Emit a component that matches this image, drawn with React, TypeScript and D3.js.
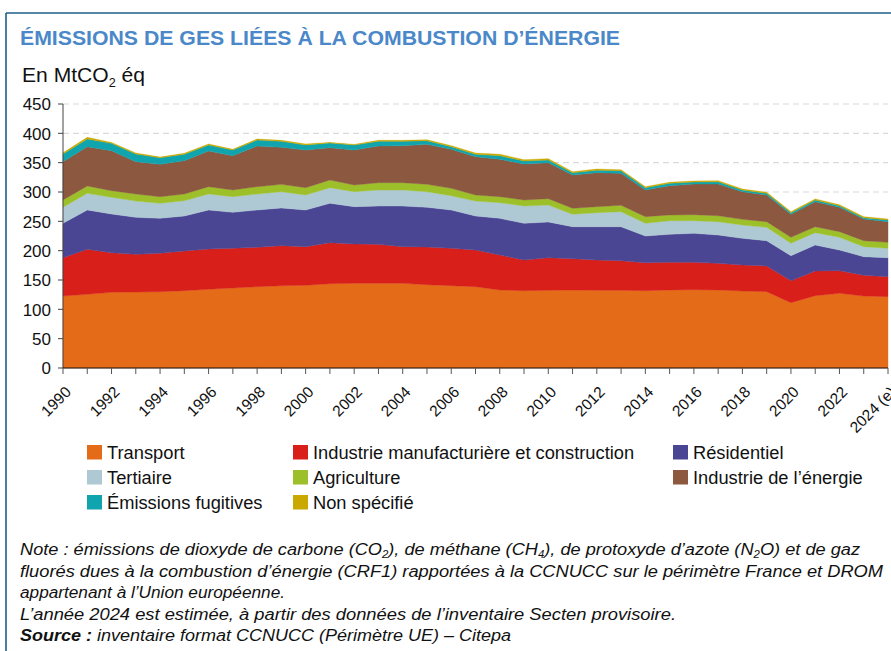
import React from "react";
import * as d3 from "d3";

const years = d3.range(1990, 2025);
const yearLabels = ["1990","1992","1994","1996","1998","2000","2002","2004","2006","2008","2010","2012","2014","2016","2018","2020","2022","2024 (e)"];
const yTicks = [0, 50, 100, 150, 200, 250, 300, 350, 400, 450];

const transport = [122.7,125.6,129,129.5,130,131.8,134.1,136.4,138.6,140.3,140.9,143.7,144.3,144.3,144.3,142,140.3,138.6,133,131.8,132.4,133,132.4,132.4,131.8,133,133.5,133,131.2,130.1,111.3,123.3,127.3,122.7,121.6];
const industrie = [65.3,76.7,67.6,64.2,65.5,67.6,68.7,67.6,67.1,68.2,65.9,69.9,67.1,66.5,62.5,64.2,63.7,62.5,59.6,52.3,55.6,53.3,51.6,50.5,47.7,47.1,46.6,45.4,44.4,43.8,37.5,42,38.6,35.3,34.1];
const residentiel = [58.6,67,65.9,63.1,59.6,59.7,66.5,61.3,63.6,64.2,62.5,67.1,63.6,65.3,69.3,67.7,65.3,58,62.5,62.5,60.9,54.5,56.8,57.9,45.5,47.8,49.5,48.3,45.4,43.1,42.6,44.3,35.2,31.8,32.3];
const tertiaire = [27.3,28.4,28.4,27.8,25.6,26.1,27.3,26.7,27.3,27.8,25.6,26.7,25.5,27.3,27.3,26.6,24.4,25.5,26.7,29.5,28.9,21.1,24,25.7,21.6,23.2,21.5,22.7,22.7,22.8,21.1,21.1,21.6,17,16];
const agriculture = [12.5,12.5,11.4,12,11.3,11.4,12.5,11.4,12.5,12.5,12.5,13,11.4,12.5,12.5,12.5,12.5,10.3,10.2,10.3,10.8,10.3,10.2,10.8,11.4,9.7,10.2,10.2,9.7,9.6,10.2,10.1,9.7,10.2,10.2];
const energie = [65.3,67.1,68.1,55.1,55.1,56.8,60.8,58.5,69.3,63.1,64.2,55.2,59.7,62.5,63,68.2,66.5,65.3,63.7,61.3,61.4,56.8,58,54.5,45.4,50,52.3,54,47.1,45.5,39.2,42.7,41.5,37,35.2];
const fugitives = [13.1,13,12.5,13,11.4,10.8,10.2,9.7,10.2,10.2,8.5,7.9,8.5,7.9,7.4,6.3,4.6,4,6.2,5.1,4.5,3.9,4,4.6,4,4,3.4,3.9,2.9,2.8,2.9,2.9,2.8,2.2,2.9];
const nonSpecifie = [2,2.9,1.6,1.7,1.1,1.7,1.7,1.1,1.7,1.7,1.7,1,1,1.7,1.7,1.5,1.7,2.2,2.3,2.3,2.3,1.8,2,1.6,1.7,1.7,1.7,1.8,1.7,1.7,1.7,1.7,1.7,1.7,1.6];

const seriesNames = ["Transport","Industrie manufacturière et construction","Résidentiel","Tertiaire","Agriculture","Industrie de l’énergie","Émissions fugitives","Non spécifié"];
const seriesKeys = ["transport","industrie","residentiel","tertiaire","agriculture","energie","fugitives","nonSpecifie"];
const seriesColors = ["#E46C18","#D81F1A","#4B4694","#AEC9D3","#9DC02A","#8C5840","#10A5AE","#C9A900"];
const seriesValues = [transport, industrie, residentiel, tertiaire, agriculture, energie, fugitives, nonSpecifie];

const rows = years.map((yr, i) => {
  const r: any = { year: yr };
  seriesKeys.forEach((k, j) => { r[k] = seriesValues[j][i]; });
  return r;
});

const W = 891, H = 651;
const x = d3.scaleLinear().domain([1990, 2024]).range([63, 888]);
const y = d3.scaleLinear().domain([0, 450]).range([368, 104]);

const stacked = d3.stack().keys(seriesKeys)(rows as any);
const area = d3.area<any>()
  .x((d) => x(d.data.year))
  .y0((d) => y(d[0]))
  .y1((d) => y(d[1]));

const legendOrder = [
  [0, 1, 2],
  [3, 4, 5],
  [6, 7],
];
const legendColX = [87, 293, 673];

const baseFont = "'Liberation Sans', Arial, Helvetica, sans-serif";

export default function App() {
  return (
    <svg width={W} height={H} style={{ position: "absolute", left: 0, top: 0, display: "block" }} fontFamily={baseFont}>
      <rect x={0} y={0} width={W} height={H} fill="#fff" />
      {/* frame */}
      <line x1={6} y1={13} x2={W} y2={13} stroke="#1E5F8A" strokeWidth={1.6} />
      <line x1={6} y1={13} x2={6} y2={H} stroke="#1E5F8A" strokeWidth={1.6} />
      <text x={20} y={45} fontSize={20.5} fontWeight="bold" fill="#4A88C9" textLength={600} lengthAdjust="spacingAndGlyphs">ÉMISSIONS DE GES LIÉES À LA COMBUSTION D’ÉNERGIE</text>
      <text x={22} y={82} fontSize={20} fill="#111" textLength={123} lengthAdjust="spacingAndGlyphs">
        En MtCO<tspan fontSize={12} dy={5}>2</tspan><tspan dy={-5}> éq</tspan>
      </text>

      {/* gridlines */}
      {yTicks.filter((t) => t > 0).map((t) => (
        <line key={t} x1={63} x2={888} y1={y(t)} y2={y(t)} stroke="#D9D9D9" strokeWidth={1.2} strokeDasharray="6,4" />
      ))}

      {/* areas */}
      {stacked.map((s, i) => (
        <path key={seriesKeys[i]} d={area(s as any) || ""} fill={seriesColors[i]} stroke={seriesColors[i]} strokeWidth={0.4} />
      ))}

      {/* y axis */}
      <line x1={63} x2={63} y1={y(450)} y2={y(0)} stroke="#444" strokeWidth={1} />
      {yTicks.map((t) => (
        <g key={t}>
          <line x1={58} x2={63} y1={y(t)} y2={y(t)} stroke="#444" />
          <text x={51} y={y(t)} dy="0.38em" textAnchor="end" fontSize={17} fill="#111">{t}</text>
        </g>
      ))}

      {/* x axis */}
      <line x1={63} x2={888} y1={368} y2={368} stroke="#111" strokeWidth={1.2} />
      {years.map((yr) => (
        <line key={yr} x1={x(yr)} x2={x(yr)} y1={368} y2={374} stroke="#555" />
      ))}
      {yearLabels.map((lab, i) => {
        const yr = 1990 + i * 2;
        const px = x(yr) + 9;
        const py = 393;
        return (
          <text key={lab} x={px} y={py} fontSize={15.5} textAnchor="end" fill="#111" transform={`rotate(-45 ${px} ${py})`}>{lab}</text>
        );
      })}

      {/* legend */}
      {legendOrder.map((row, ri) =>
        row.map((si, ci) => {
          const lx = legendColX[ci];
          const ly = 445 + ri * 25;
          return (
            <g key={si}>
              <rect x={lx} y={ly} width={15} height={14.5} fill={seriesColors[si]} />
              <text x={lx + 20} y={ly + 13.5} fontSize={18.3} fill="#111">{seriesNames[si]}</text>
            </g>
          );
        })
      )}

      {/* notes */}
      <g fontStyle="italic" fontSize={16} fill="#111">
        <text x={20} y={555} textLength={840} lengthAdjust="spacingAndGlyphs">
          Note : émissions de dioxyde de carbone (CO<tspan fontSize={10} dy={3}>2</tspan><tspan dy={-3}>), de méthane (CH</tspan><tspan fontSize={10} dy={3}>4</tspan><tspan dy={-3}>), de protoxyde d’azote (N</tspan><tspan fontSize={10} dy={3}>2</tspan><tspan dy={-3}>O) et de gaz</tspan>
        </text>
        <text x={20} y={577} textLength={863} lengthAdjust="spacingAndGlyphs">fluorés dues à la combustion d’énergie (CRF1) rapportées à la CCNUCC sur le périmètre France et DROM</text>
        <text x={20} y={598} textLength={265} lengthAdjust="spacingAndGlyphs">appartenant à l’Union européenne.</text>
        <text x={20} y={620} textLength={656} lengthAdjust="spacingAndGlyphs">L’année 2024 est estimée, à partir des données de l’inventaire Secten provisoire.</text>
        <text x={20} y={641} textLength={491} lengthAdjust="spacingAndGlyphs"><tspan fontWeight="bold">Source :</tspan> inventaire format CCNUCC (Périmètre UE) – Citepa</text>
      </g>
    </svg>
  );
}
